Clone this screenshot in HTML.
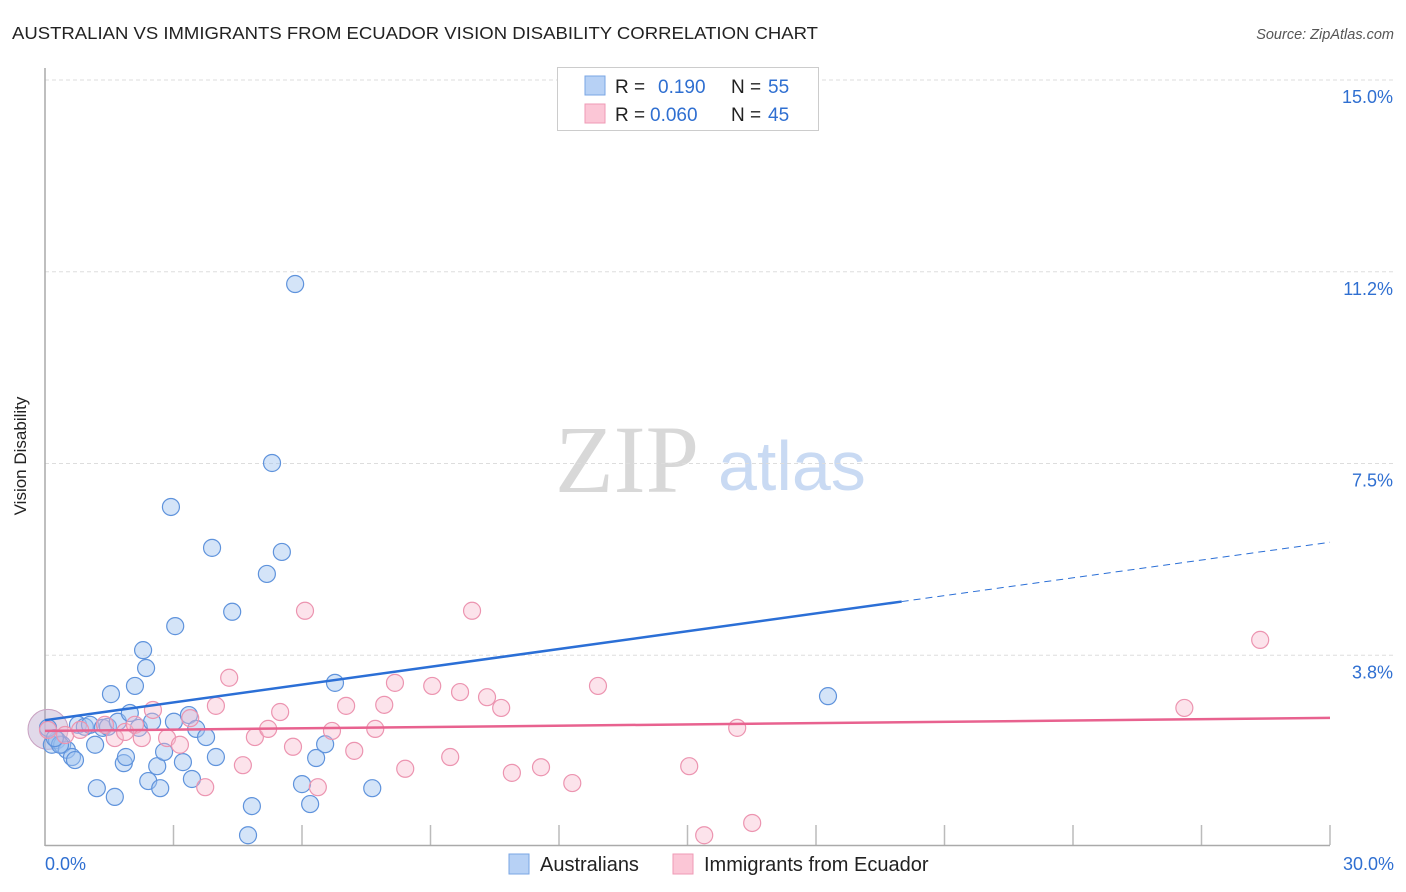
<!DOCTYPE html>
<html><head><meta charset="utf-8"><style>
body{margin:0;background:#fff;font-family:"Liberation Sans",sans-serif}
svg{display:block}
</style></head><body>
<svg id="chart" width="1406" height="892">
<text x="12" y="39" font-size="17.5" fill="#222" textLength="806" lengthAdjust="spacingAndGlyphs">AUSTRALIAN VS IMMIGRANTS FROM ECUADOR VISION DISABILITY CORRELATION CHART</text>
<text x="1394" y="39" font-size="14.5" fill="#555" font-style="italic" text-anchor="end">Source: ZipAtlas.com</text>
<text x="555" y="492" font-size="96" fill="#d8d8d8" font-family="Liberation Serif,serif">ZIP</text>
<text x="718" y="490" font-size="70" fill="#c9daf3">atlas</text>
<g id="grid"></g>
<line x1="45" y1="68" x2="45" y2="846" stroke="#aaa" stroke-width="1.5"/>
<line x1="45" y1="845.5" x2="1330" y2="845.5" stroke="#aaa" stroke-width="1.5"/>
<text x="26" y="456" font-size="17" fill="#222" text-anchor="middle" transform="rotate(-90 26 456)">Vision Disability</text>
<g id="marks"></g>
<g>
<rect x="557.5" y="67.5" width="261" height="63" fill="#fff" stroke="#ccc"/>
<rect x="585" y="76" width="20" height="19" fill="#b7d1f5" stroke="#7aa6e4"/>
<rect x="585" y="104" width="20" height="19" fill="#fbc6d6" stroke="#ef9ab5"/>
<text x="615" y="93" font-size="19" fill="#222">R =</text>
<text x="658" y="93" font-size="19" fill="#2f6fd1">0.190</text>
<text x="731" y="93" font-size="19" fill="#222">N =</text>
<text x="768" y="93" font-size="19" fill="#2f6fd1">55</text>
<text x="615" y="121" font-size="19" fill="#222">R =</text>
<text x="650" y="121" font-size="19" fill="#2f6fd1">0.060</text>
<text x="731" y="121" font-size="19" fill="#222">N =</text>
<text x="768" y="121" font-size="19" fill="#2f6fd1">45</text>
</g>
<g>
<rect x="509" y="854" width="20" height="20" fill="#b7d1f5" stroke="#7aa6e4"/>
<text x="540" y="871" font-size="20" fill="#222">Australians</text>
<rect x="673" y="854" width="20" height="20" fill="#fbc6d6" stroke="#ef9ab5"/>
<text x="704" y="871" font-size="20" fill="#222">Immigrants from Ecuador</text>
</g>
</svg>
<script>
const yTicks=[3.8,7.5,11.2,15.0];
const yTickVals=[3.75,7.5,11.25,15];
const xTickLabels=["0.0%","30.0%"];
const blueX=[0.16,0.28,0.40,0.51,0.63,0.70,0.77,0.93,1.05,1.17,1.21,1.35,1.47,1.54,1.63,1.70,1.84,1.89,1.98,2.10,2.19,2.29,2.36,2.41,2.50,2.62,2.69,2.78,2.94,3.01,3.04,3.22,3.36,3.43,3.53,3.76,3.90,3.99,4.37,4.83,4.74,5.18,5.30,5.53,5.84,6.00,6.19,6.33,6.54,6.77,7.64,18.28,0.07,0.35,0.23];
const blueY=[2.00,2.09,2.00,1.90,1.76,1.70,2.39,2.35,2.39,2.00,1.15,2.33,2.35,2.99,0.98,2.45,1.64,1.76,2.62,3.15,2.33,3.85,3.50,1.29,2.45,1.58,1.15,1.86,6.65,2.45,4.32,1.66,2.58,1.33,2.31,2.15,5.85,1.76,4.60,0.80,0.23,5.34,7.51,5.77,11.01,1.23,0.84,1.74,2.01,3.21,1.15,2.95,2.33,2.00,2.13];
const pinkX=[0.07,0.47,0.82,1.40,1.63,1.87,2.10,2.26,2.52,2.85,3.15,3.39,3.74,3.99,4.30,4.62,4.90,5.21,5.49,5.79,6.07,6.37,6.70,7.03,7.22,7.71,7.92,8.17,8.41,9.04,9.46,9.69,9.97,10.32,10.65,10.90,11.58,12.31,12.91,15.04,15.39,16.16,16.51,26.60,28.37];
const pinkY=[2.29,2.19,2.29,2.39,2.13,2.25,2.39,2.13,2.68,2.13,2.00,2.52,1.17,2.76,3.31,1.60,2.15,2.31,2.64,1.96,4.62,1.17,2.27,2.76,1.88,2.31,2.78,3.21,1.53,3.15,1.76,3.03,4.62,2.93,2.72,1.45,1.56,1.25,3.15,1.58,0.23,2.33,0.47,2.72,4.05];
const blueTrend=[2.48,0.116];
const pinkTrend=[2.27,0.0085];
const NS="http://www.w3.org/2000/svg";
const X=v=>45+v/30*1285;
const Y=v=>847-v/15*767;
function mk(t,a,p){const e=document.createElementNS(NS,t);for(const k in a)e.setAttribute(k,a[k]);p.appendChild(e);return e;}
const grid=document.getElementById('grid');
yTickVals.forEach((v,i)=>{
 const l=mk('line',{x1:45,x2:1395,y1:Y(v),y2:Y(v),stroke:'#ddd','stroke-dasharray':'4,3'},grid);
 
 
 const t=mk('text',{x:1393,y:Y(v)+23,'font-size':18,fill:'#2f6fd1','text-anchor':'end'},grid);
 t.textContent=yTicks[i].toFixed(1)+'%';
 
 
});
for(let i=1;i<=10;i++){
 const l=mk('line',{x1:X(i*3),x2:X(i*3),y1:825,y2:845,stroke:'#bbb','stroke-width':1.5},grid);
 
 
}
[[0,'start',45],[30,'end',1394]].forEach((d,i)=>{
 const t=mk('text',{x:d[2],y:870,'font-size':18,fill:'#2f6fd1','text-anchor':d[1]},grid);
 t.textContent=xTickLabels[i];
 
 
});
const marks=document.getElementById('marks');
const big=mk('circle',{cx:X(0.07),cy:Y(2.3),r:20,fill:'rgba(180,160,200,0.4)',stroke:'#c8a0c0'},marks);


blueX.forEach((x,i)=>{
 const c=mk('circle',{cx:X(x),cy:Y(blueY[i]),r:8.5,fill:'rgba(160,195,240,0.45)',stroke:'#5f93dc','stroke-width':1.2},marks);
 
 
});
pinkX.forEach((x,i)=>{
 const c=mk('circle',{cx:X(x),cy:Y(pinkY[i]),r:8.5,fill:'rgba(248,185,205,0.4)',stroke:'#ec94b0','stroke-width':1.2},marks);
 
 
});
const bt=v=>blueTrend[0]+blueTrend[1]*v, pt=v=>pinkTrend[0]+pinkTrend[1]*v;
let l=mk('line',{x1:X(0),y1:Y(bt(0)),x2:X(20),y2:Y(bt(20)),stroke:'#2b6fd6','stroke-width':2.5},marks);


l=mk('line',{x1:X(20),y1:Y(bt(20)),x2:X(30),y2:Y(bt(30)),stroke:'#2b6fd6','stroke-width':1,'stroke-dasharray':'7,5'},marks);


l=mk('line',{x1:X(0),y1:Y(pt(0)),x2:X(30),y2:Y(pt(30)),stroke:'#e8628f','stroke-width':2.5},marks);


</script>
</body></html>
